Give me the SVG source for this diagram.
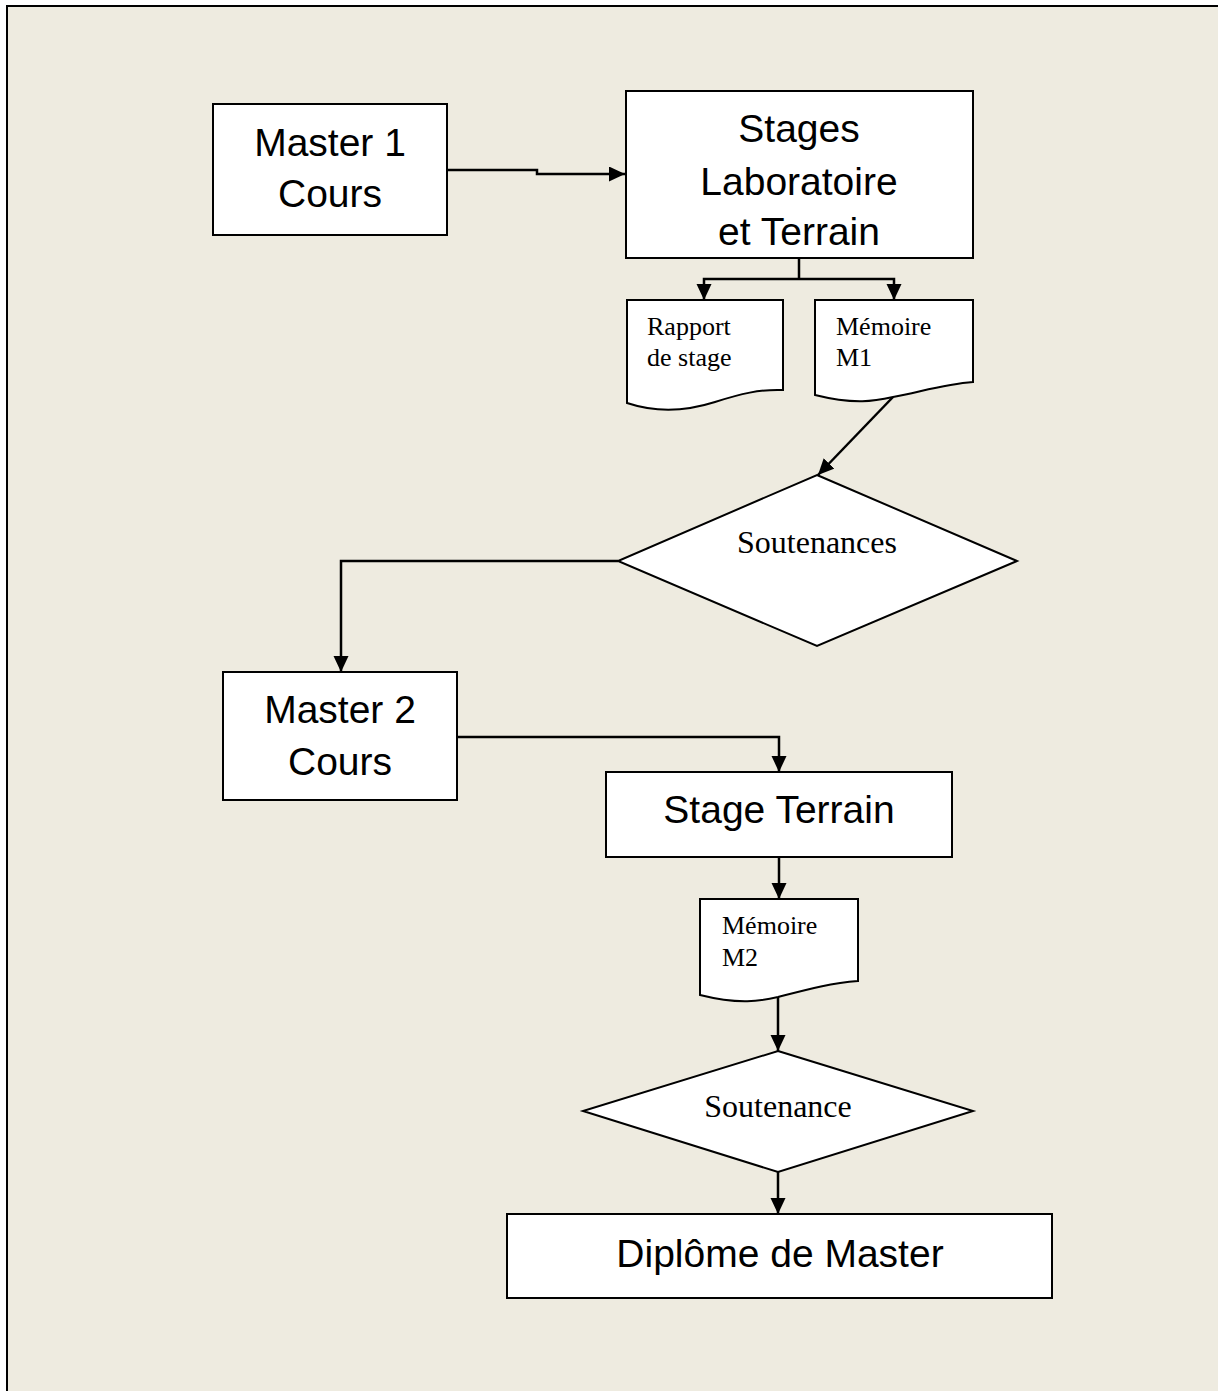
<svg xmlns="http://www.w3.org/2000/svg" width="1218" height="1391" viewBox="0 0 1218 1391">
<defs>
<marker id="arr" markerUnits="userSpaceOnUse" markerWidth="18" markerHeight="16" refX="16" refY="7.5" orient="auto">
<path d="M0,0 L16,7.5 L0,15 Z" fill="#000"/>
</marker>
<style>
.box{fill:#fff;stroke:#000;stroke-width:2}
.sans{font-family:"Liberation Sans",Arial,sans-serif;font-size:39px;fill:#000;text-anchor:middle}
.serif{font-family:"Liberation Serif","Times New Roman",serif;fill:#000}
.doc{font-size:26px}
.dia{font-size:32px;text-anchor:middle}
.con{fill:none;stroke:#000;stroke-width:2.5}
.arr{marker-end:url(#arr)}
</style>
</defs>
<rect x="0" y="0" width="1218" height="1391" fill="#fff"/>
<rect x="7" y="6" width="1230" height="1400" fill="#EEEBE0" stroke="#000" stroke-width="2"/>

<g id="connectors">
<path class="con arr" d="M447,170 H537 V174 H625"/>
<path class="con" d="M799,258 V279"/>
<path class="con arr" d="M799,279 H704 V300"/>
<path class="con arr" d="M799,279 H894 V300"/>
<path class="con arr" d="M893,397 L818,475"/>
<path class="con arr" d="M618,561 H341 V672"/>
<path class="con arr" d="M457,737 H779 V772"/>
<path class="con arr" d="M779,857 V899"/>
<path class="con arr" d="M778,997 V1051"/>
<path class="con arr" d="M778,1172 V1214"/>
</g>

<g id="master1">
<rect class="box" x="213" y="104" width="234" height="131"/>
<text class="sans" x="330" y="156">Master 1</text>
<text class="sans" x="330" y="207">Cours</text>
</g>

<g id="stages">
<rect class="box" x="626" y="91" width="347" height="167"/>
<text class="sans" x="799" y="142">Stages</text>
<text class="sans" x="799" y="195">Laboratoire</text>
<text class="sans" x="799" y="245">et Terrain</text>
</g>

<g id="rapport">
<path class="box" d="M627,300 H783 V390 C760,389 740,394 715,402 C690,410 660,414 627,403 Z"/>
<text class="serif doc" x="647" y="335">Rapport</text>
<text class="serif doc" x="647" y="366">de stage</text>
</g>

<g id="memoire1">
<path class="box" d="M815,300 H973 V382 C945,384 920,392 893,397 C875,401 855,405 815,395 Z"/>
<text class="serif doc" x="836" y="335">Mémoire</text>
<text class="serif doc" x="836" y="366">M1</text>
</g>

<g id="soutenances">
<polygon class="box" points="817,475 1017,561 817,646 618,561"/>
<text class="serif dia" x="817" y="553">Soutenances</text>
</g>

<g id="master2">
<rect class="box" x="223" y="672" width="234" height="128"/>
<text class="sans" x="340" y="723">Master 2</text>
<text class="sans" x="340" y="775">Cours</text>
</g>

<g id="stageterrain">
<rect class="box" x="606" y="772" width="346" height="85"/>
<text class="sans" x="779" y="823">Stage Terrain</text>
</g>

<g id="memoire2">
<path class="box" d="M700,899 H858 V981 C830,983 805,990 778,997 C760,1001 740,1005 700,995 Z"/>
<text class="serif doc" x="722" y="934">Mémoire</text>
<text class="serif doc" x="722" y="966">M2</text>
</g>

<g id="soutenance">
<polygon class="box" points="778,1051 973,1111 778,1172 583,1111"/>
<text class="serif dia" x="778" y="1117">Soutenance</text>
</g>

<g id="diplome">
<rect class="box" x="507" y="1214" width="545" height="84"/>
<text class="sans" x="780" y="1267">Diplôme de Master</text>
</g>
</svg>
